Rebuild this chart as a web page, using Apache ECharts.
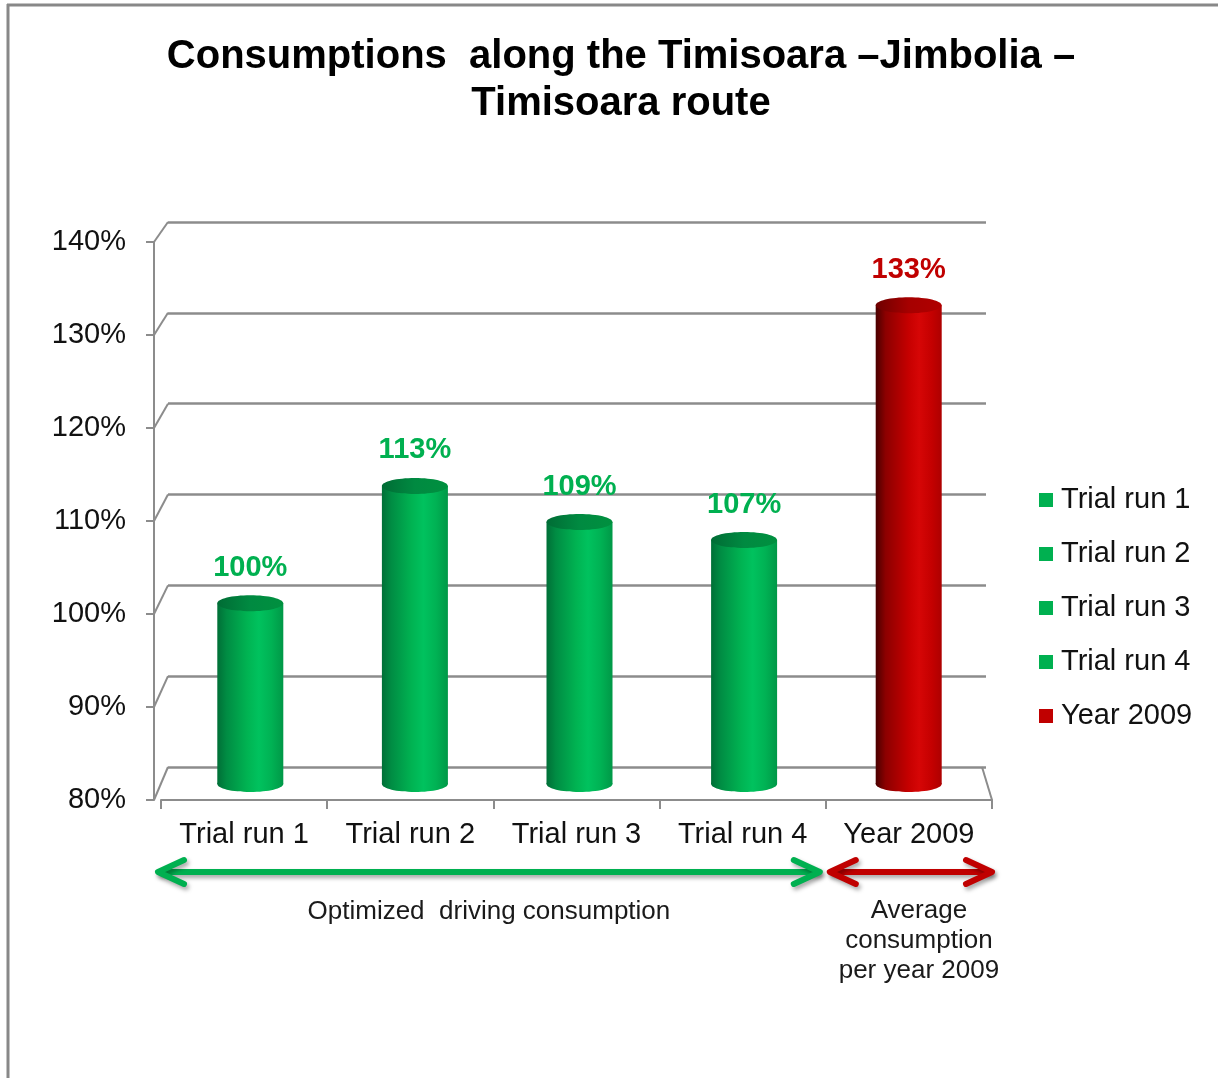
<!DOCTYPE html>
<html>
<head>
<meta charset="utf-8">
<script src="https://cdn.jsdelivr.net/npm/echarts@6/dist/echarts.min.js"></script>
<style>
  html, body { margin: 0; padding: 0; background: #fff; }
  #chart { width: 1218px; height: 1078px; }
</style>
</head>
<body>
<div id="chart"></div>
<script>
// data
const categories = ['Trial run 1', 'Trial run 2', 'Trial run 3', 'Trial run 4', 'Year 2009']
const values = [100, 113, 109, 107, 133]
const yMin = 80
const yMax = 140
const yStep = 10
const titleLines = ['Consumptions  along the Timisoara \u2013Jimbolia \u2013', 'Timisoara route']
const groupNotes = ['Optimized  driving consumption', 'Average\nconsumption\nper year 2009']
const groupSpans = [[0, 3], [4, 4]] // category index ranges under each arrow

const font = '"Liberation Sans", Arial, Helvetica, sans-serif'
const gridGray = '#8c8c8c'

const palette = {
    green: {
        solid: '#00b050',
        body: [[0, '#006f37'], [0.14, '#008c43'], [0.45, '#00b352'], [0.63, '#00c25e'], [0.82, '#00b254'], [1, '#009847']],
        cap: [[0, '#006c35'], [0.5, '#008a41'], [1, '#00903f']],
    },
    red: {
        solid: '#c00000',
        body: [[0, '#4a0000'], [0.15, '#8c0000'], [0.5, '#c60000'], [0.66, '#d60606'], [0.85, '#c40000'], [1, '#ad0000']],
        cap: [[0, '#6e0000'], [0.5, '#a60000'], [1, '#b00000']],
    },
}
const colorOf = (i) => (i === categories.length - 1 ? palette.red : palette.green)
const grad = (stops) => new echarts.graphic.LinearGradient(0, 0, 1, 0, stops.map(([offset, color]) => ({ offset, color })))

// layout
const front = { left: 154, top: 242, width: 838, height: 558 }   // front y axis
const back = { left: 168, top: 222, width: 818, height: 545 }    // back wall with grid lines
const bars = { left: 168, top: 242, width: 823, height: 542 }    // cylinders
const floor = { left: 161, top: 242, width: 831, height: 558 }   // front x axis
const barW = 66
const capH = 16

const chart = echarts.init(document.getElementById('chart'))

const hiddenAxis = (type, gridIndex, extra) => Object.assign({ type, gridIndex, show: false }, extra || {})

// cylinder: bottom ellipse, body, top ellipse and the value label, all placed through the axes
const cylinder = (i) => (params, api) => {
    const top = api.coord([api.value(0), api.value(1)])
    const base = api.coord([api.value(0), yMin])
    const c = colorOf(i)
    const rx = barW / 2
    const ry = capH / 2
    return {
        type: 'group',
        children: [
            { type: 'ellipse', shape: { cx: base[0], cy: base[1], rx, ry }, style: { fill: grad(c.body) } },
            { type: 'rect', shape: { x: top[0] - rx, y: top[1], width: barW, height: base[1] - top[1] }, style: { fill: grad(c.body) } },
            { type: 'ellipse', shape: { cx: top[0], cy: top[1], rx, ry }, style: { fill: grad(c.cap) } },
            {
                type: 'text',
                x: top[0],
                y: top[1] - ry - 13,
                style: {
                    text: api.value(1) + '%',
                    align: 'center',
                    verticalAlign: 'bottom',
                    font: 'bold 29px ' + font,
                    fill: c.solid,
                },
            },
        ],
    }
}

const cylinderSeries = categories.map((name, i) => ({
    name,
    type: 'custom',
    xAxisIndex: 2,
    yAxisIndex: 2,
    clip: false,
    silent: true,
    encode: { x: 0, y: 1 },
    itemStyle: { color: colorOf(i).solid },
    data: [[i, values[i]]],
    renderItem: cylinder(i),
}))

const option = {
    backgroundColor: '#fff',
    animation: false,
    textStyle: { fontFamily: font },
    legend: {
        orient: 'vertical',
        left: 1034,
        top: 480,
        itemWidth: 14,
        itemHeight: 14,
        itemGap: 24,
        icon: 'rect',
        selectedMode: false,
        textStyle: { fontFamily: font, fontSize: 29, lineHeight: 30, color: '#111', padding: [0, 0, 0, 3] },
        data: categories.map((name, i) => ({ name, itemStyle: { color: colorOf(i).solid } })),
    },
    grid: [
        Object.assign({ outerBoundsMode: 'none', containLabel: false }, front),
        Object.assign({ outerBoundsMode: 'none', containLabel: false }, back),
        Object.assign({ outerBoundsMode: 'none', containLabel: false }, bars),
        Object.assign({ outerBoundsMode: 'none', containLabel: false }, floor),
    ],
    xAxis: [
        hiddenAxis('category', 0, { data: categories }),
        hiddenAxis('category', 1, { data: categories }),
        hiddenAxis('category', 2, { data: categories }),
        {
            type: 'category',
            gridIndex: 3,
            data: categories,
            axisLine: { show: true, lineStyle: { color: gridGray, width: 2 } },
            axisTick: { show: true, interval: 0, alignWithLabel: false, length: 9, lineStyle: { color: gridGray, width: 2 } },
            axisLabel: { interval: 0, margin: 20, fontFamily: font, fontSize: 29, color: '#111' },
            splitLine: { show: false },
        },
    ],
    yAxis: [
        {
            type: 'value',
            gridIndex: 0,
            min: yMin,
            max: yMax,
            interval: yStep,
            axisLine: { show: true, lineStyle: { color: gridGray, width: 2 } },
            axisTick: { show: true, length: 8, lineStyle: { color: gridGray, width: 2 } },
            axisLabel: { margin: 28, formatter: '{value}%', fontFamily: font, fontSize: 29, color: '#111' },
            splitLine: { show: false },
        },
        {
            type: 'value',
            gridIndex: 1,
            min: yMin,
            max: yMax,
            interval: yStep,
            axisLine: { show: false },
            axisTick: { show: false },
            axisLabel: { show: false },
            splitLine: { show: true, lineStyle: { color: gridGray, width: 2.5 } },
        },
        hiddenAxis('value', 2, { min: yMin, max: yMax, interval: yStep }),
        hiddenAxis('value', 3, { min: yMin, max: yMax, interval: yStep }),
    ],
    series: cylinderSeries,
}

chart.setOption(option)

// perspective connectors, floor edge, arrows and notes
const ticks = []
for (let v = yMin; v <= yMax; v += yStep) ticks.push(v)

const graphics = []

// frame round the picture (top and left edges only)
graphics.push({ type: 'line', shape: { x1: 7, y1: 5, x2: 1218, y2: 5 }, style: { stroke: '#888', lineWidth: 3 }, silent: true })
graphics.push({ type: 'line', shape: { x1: 8, y1: 4, x2: 8, y2: 1078 }, style: { stroke: '#888', lineWidth: 3 }, silent: true })

ticks.forEach((v) => {
    const yf = chart.convertToPixel({ yAxisIndex: 0 }, v)
    const yb = chart.convertToPixel({ yAxisIndex: 1 }, v)
    graphics.push({
        type: 'line',
        shape: { x1: front.left, y1: yf, x2: back.left, y2: yb },
        style: { stroke: gridGray, lineWidth: 2 },
        silent: true,
    })
})

// right edge of the floor
const yFloorFront = chart.convertToPixel({ yAxisIndex: 3 }, yMin)
const yFloorBack = chart.convertToPixel({ yAxisIndex: 1 }, yMin)
graphics.push({
    type: 'line',
    shape: { x1: back.left + back.width - 4, y1: yFloorBack, x2: floor.left + floor.width, y2: yFloorFront },
    style: { stroke: gridGray, lineWidth: 2 },
    silent: true,
})

// title
graphics.push({
    type: 'text',
    x: 621,
    y: 80,
    style: {
        text: titleLines.join('\n'),
        font: 'bold 40px ' + font,
        fill: '#000',
        align: 'center',
        verticalAlign: 'middle',
        lineHeight: 47,
    },
    silent: true,
})

// double arrows under the category labels
const bandW = floor.width / categories.length
const arrowY = 872
const arrow = (x0, x1, y, color) => {
    const head = 26
    const spread = 12
    const style = {
        stroke: color,
        lineWidth: 6,
        lineCap: 'round',
        lineJoin: 'round',
        fill: null,
        shadowColor: 'rgba(0,0,0,0.35)',
        shadowBlur: 4,
        shadowOffsetX: 2,
        shadowOffsetY: 3,
    }
    return {
        type: 'group',
        silent: true,
        children: [
            { type: 'line', shape: { x1: x0 + 2, y1: y, x2: x1 - 2, y2: y }, style },
            { type: 'polyline', shape: { points: [[x0 + head, y - spread], [x0, y], [x0 + head, y + spread]] }, style },
            { type: 'polyline', shape: { points: [[x1 - head, y - spread], [x1, y], [x1 - head, y + spread]] }, style },
        ],
    }
}

groupSpans.forEach(([a, b], k) => {
    const x0 = floor.left + a * bandW + (k === 0 ? -3 : 4)
    const x1 = floor.left + (b + 1) * bandW - (k === 0 ? 6 : 0)
    graphics.push(arrow(x0, x1, arrowY, colorOf(b).solid))
    graphics.push({
        type: 'text',
        x: (x0 + x1) / 2 + (k === 0 ? 0 : 8),
        y: k === 0 ? 912 : 941,
        style: {
            text: groupNotes[k],
            font: '26px ' + font,
            fill: '#1a1a1a',
            align: 'center',
            verticalAlign: 'middle',
            lineHeight: 30,
        },
        silent: true,
    })
})

chart.setOption({ graphic: graphics })
</script>
</body>
</html>
